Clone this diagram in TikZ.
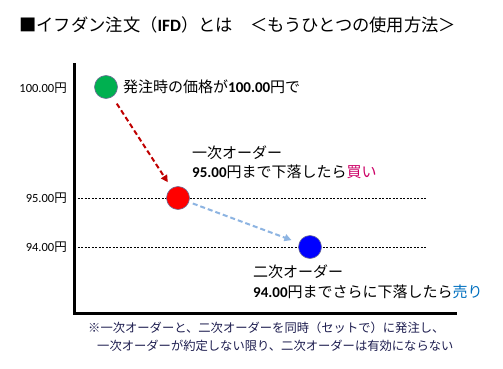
\documentclass[tikz,border=0pt]{standalone}
\usepackage{fontspec}
\newfontfamily\jp{Noto Sans CJK JP}
\newfontfamily\numf{Carlito}
\usetikzlibrary{arrows.meta}
\definecolor{gcol}{RGB}{0,176,80}
\definecolor{rcol}{RGB}{255,0,0}
\definecolor{bcol}{RGB}{0,0,255}
\definecolor{ringcol}{RGB}{110,110,150}
\definecolor{darr}{RGB}{192,0,0}
\definecolor{larr}{RGB}{141,180,226}
\definecolor{buycol}{RGB}{204,0,102}
\definecolor{sellcol}{RGB}{0,112,192}
\definecolor{notecol}{RGB}{30,30,80}
\tikzset{
  dot/.style={circle, minimum size=23pt, inner sep=0pt, draw=ringcol, line width=0.6pt},
  ylab/.style={anchor=east, inner sep=0pt, font=\fontsize{12.5}{14}\selectfont},
  lab/.style={anchor=west, inner sep=0pt, font=\fontsize{15}{18}\selectfont\jp},
  note/.style={anchor=west, inner sep=0pt, text=notecol, font=\fontsize{12.3}{14}\selectfont\jp},
  guide/.style={line width=0.6pt, dash pattern=on 2.2pt off 1.3pt},
  arr/.style={line width=2pt, dash pattern=on 5pt off 3pt, -{Triangle[length=7pt,width=7pt]}},
}
\begin{document}
\begin{tikzpicture}[x=1pt,y=-1pt]
\useasboundingbox[fill=white] (0,0) rectangle (503,369);
% title
\node[anchor=west, inner sep=0pt, font=\fontsize{17.3}{20}\selectfont\jp] (title) at (19,25)
  {■イフダン注文（{\numf\bfseries IFD}）とは　＜もうひとつの使用方法＞};
% axes
\coordinate (top) at (74,65);
\coordinate (origin) at (74,313);
\coordinate (right) at (455,313);
\draw[line width=3pt, line cap=rect] (top) -- (origin) -- (right);
% guide lines
\coordinate (g95a) at (74,198);
\coordinate (g95b) at (426,198);
\coordinate (g94a) at (74,247);
\coordinate (g94b) at (426,247);
\draw[guide] (g95a) -- (g95b);
\draw[guide] (g94a) -- (g94b);
% y labels
\node[ylab] (l100) at (67,88) {\numf 100.00\jp 円};
\node[ylab] (l95) at (67,198) {\numf 95.00\jp 円};
\node[ylab] (l94) at (67,247) {\numf 94.00\jp 円};
% dots
\node[dot, fill=gcol] (g) at (106,87) {};
\node[dot, fill=rcol] (r) at (178,198) {};
\node[dot, fill=bcol] (b) at (310,247) {};
% arrows
\draw[arr, darr, shorten <=8pt, shorten >=7pt] (g) -- (r);
\draw[arr, larr, shorten <=4pt, shorten >=8pt] (r) -- (b);
% labels
\node[lab] (t1) at (123,87) {発注時の価格が{\numf\bfseries 100.00}円で};
\node[lab] (t2) at (192,153) {一次オーダー};
\node[lab] (t3) at (192,172) {{\numf\bfseries 95.00}円まで下落したら\textcolor{buycol}{買い}};
\node[lab] (t4) at (253,272) {二次オーダー};
\node[lab] (t5) at (253,292) {{\numf\bfseries 94.00}円までさらに下落したら\textcolor{sellcol}{売り}};
% note
\node[note] (n1) at (88,328) {※一次オーダーと、二次オーダーを同時（セットで）に発注し、};
\node[note] (n2) at (97,346) {一次オーダーが約定しない限り、二次オーダーは有効にならない};
\end{tikzpicture}
\end{document}
